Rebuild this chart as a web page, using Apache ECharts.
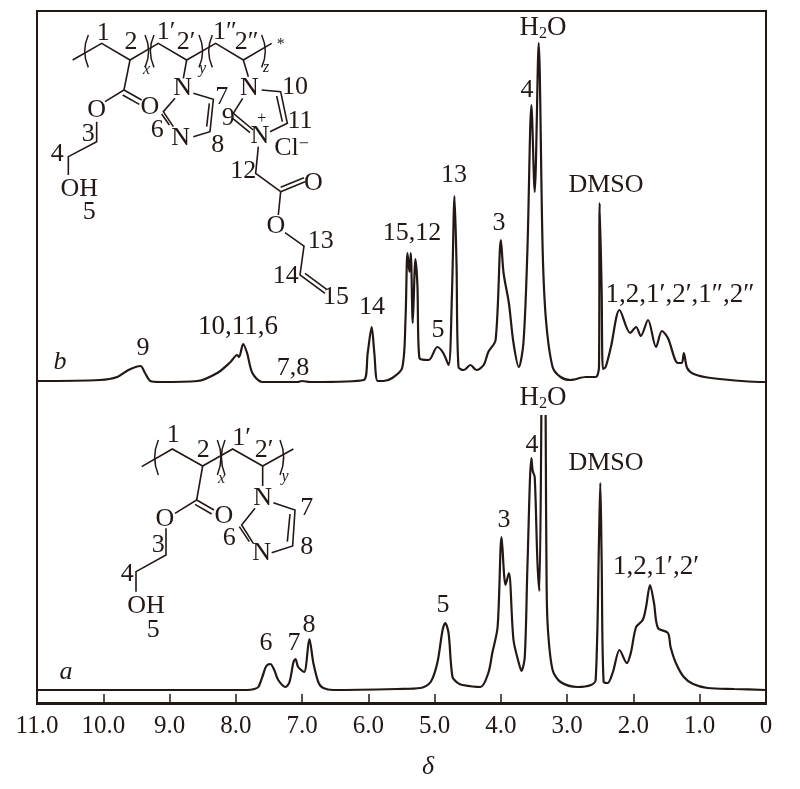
<!DOCTYPE html>
<html><head><meta charset="utf-8">
<style>html,body{margin:0;padding:0;background:#fff}#c{width:800px;height:789px}</style>
<script src="https://cdn.jsdelivr.net/npm/echarts@6/dist/echarts.min.js"></script>
</head><body><div id="c"></div>
<script>
const xTickLabels = ['0','1.0','2.0','3.0','4.0','5.0','6.0','7.0','8.0','9.0','10.0','11.0'];
const axisTitle = 'δ';

// spectrum a: chemical shift and intensity (null = clipped H2O top)
const deltaA = [11.00,7.83,7.72,7.66,7.59,7.54,7.48,7.42,7.36,7.25,7.19,7.13,7.10,7.06,6.97,6.89,6.83,6.75,6.68,6.53,5.56,5.21,5.06,4.96,4.88,4.84,4.79,4.73,4.65,4.58,4.31,4.19,4.13,4.05,3.99,3.93,3.88,3.81,3.73,3.69,3.64,3.60,3.54,3.52,3.49,3.45,3.42,3.39,3.36,3.325,3.31,3.29,3.22,3.10,2.84,2.64,2.57,2.52,2.50,2.48,2.45,2.39,2.31,2.21,2.10,2.04,1.96,1.86,1.81,1.75,1.69,1.63,1.48,1.44,1.36,1.24,1.10,0.88,0.48,0];
const intensityA = [13,13,14,16,28,37,39,33,23,16,21,41,44,36,31,64,40,20,15,13,14,15,21,40,73,80,70,26,20,18,16,30,50,76,166,118,130,63,40,32,46,136,245,232,226,143,112,288,null,288,116,73,33,21,16,18,23,163,220,143,21,20,31,53,40,50,76,83,96,118,100,75,70,56,40,26,19,15,14,13];

// spectrum b: chemical shift and intensity
const deltaB = [11.00,10.05,9.79,9.62,9.44,9.37,9.29,9.14,8.58,8.28,8.08,7.98,7.95,7.89,7.83,7.75,7.60,7.07,7.00,6.88,6.07,6.01,5.95,5.91,5.86,5.77,5.64,5.49,5.44,5.41,5.38,5.36,5.33,5.29,5.26,5.23,5.09,4.96,4.87,4.79,4.74,4.70,4.67,4.64,4.56,4.46,4.37,4.26,4.19,4.08,4.00,3.96,3.88,3.81,3.73,3.66,3.60,3.54,3.49,3.43,3.37,3.32,3.22,3.10,2.95,2.72,2.57,2.52,2.51,2.48,2.46,2.42,2.34,2.21,2.05,1.96,1.89,1.78,1.66,1.57,1.48,1.33,1.27,1.24,1.19,1.09,0.83,0.03,0];
const intensityB = [322,323,326,333,337,330,322,321,322,330,341,348,346,359,350,330,321,321,322,321,323,350,376,350,322,322,325,335,383,450,431,450,380,444,418,345,343,356,350,338,406,507,440,336,333,338,333,338,351,363,463,430,400,360,336,360,453,598,511,660,453,383,336,326,323,326,326,336,500,413,334,336,356,393,370,376,367,383,356,372,365,340,340,350,335,329,325,321,321];

// peak and panel labels: [text, x, y]
const peakLabels = [
  ['H{sub|2}O',543,28],['4',527,90],['13',454,175],['15,12',412,233],['14',372,307],['5',438,330],['3',499,223],['DMSO',606,185],
  ['1,2,1′,2′,1″,2″',680,295],['10,11,6',238,327],['9',143,348],['7,8',293,368],
  ['H{sub|2}O',543,398],['4',532,445],['DMSO',606,463],['3',504,520],['5',443,605],['1,2,1′,2′',656,567],['6',266,643],['7',294,643],['8',309,625]
];
const panelLabels = [['b',60,362],['a',66,672]];

// structure drawings, in a local sketch frame
const topOrigin = [50,10], lowOrigin = [110,410];
const topBonds = [
 [[68,150],[155,100],[240,150],[325,100],[410,150],[497,100],[580,150],[665,100]],
 [[240,150],[222,240],[165,275]],[[222,240],[275,270]],[[218,255],[268,283]],
 [[140,335],[140,395],[55,440],[55,495]],
 [[410,150],[400,205]],[[430,250],[490,268],[480,365],[430,380]],[[478,280],[470,350]],
 [[370,350],[340,305],[375,265]],[[358,345],[335,312]],
 [[580,150],[595,200]],[[635,240],[692,245],[712,340],[660,365]],[[680,258],[697,335]],
 [[578,265],[550,310],[610,360]],[[548,325],[600,368]],
 [[625,410],[617,490],[692,545],[685,615]],[[692,545],[765,515]],[[692,532],[762,503]],
 [[705,668],[762,708],[750,795],[825,850]],[[765,790],[830,838]]
];
const topParens = [[115,75,172,-1],[285,75,172,1],[312,75,172,-1],[447,75,172,1],[487,75,172,-1],[635,75,172,1]];
const topAtoms = [
 ['O',140,300],['O',300,292],['OH',88,538],['5',118,608],['3',115,372],['4',22,432],['1',160,70],['2',243,97],['1′',348,68],['2′',408,97],['1″',525,68],['2″',590,97],
 ['N',398,235],['N',392,385],['7',515,262],['8',503,407],['6',322,360],['N',598,235],['N',630,380],['10',735,232],['11',750,335],['9',535,325],['Cl{sup|−}',725,415],
 ['12',580,485],['O',790,520],['O',678,650],['13',812,695],['14',707,800],['15',858,862]
];
const topSmall = [['x',290,180,true],['y',458,175,true],['z',648,172,true],['*',692,105,false],['+',635,325,false]];
const lowBonds = [
 [[95,170],[187,117],[278,168],[368,117],[458,168],[550,117]],
 [[278,168],[260,270],[195,310]],[[260,270],[312,300]],[[255,283],[305,312]],
 [[168,355],[168,435],[78,485],[78,545]],
 [[458,168],[458,228]],[[490,278],[555,300],[548,408],[485,428]],[[540,312],[532,395]],
 [[430,400],[395,345],[435,295]],[[418,395],[388,350]]
];
const lowParens = [[145,90,195,-1],[322,90,195,1],[345,90,195,-1],[510,90,195,1]];
const lowAtoms = [
 ['O',165,328],['O',342,318],['OH',108,590],['5',130,660],['3',145,405],['4',52,492],['1',190,75],['2',280,122],['1′',395,85],['2′',462,120],
 ['N',458,265],['N',455,430],['6',358,385],['7',590,295],['8',590,412]
];
const lowSmall = [['x',335,205,true],['y',525,200,true]];

const ink = '#231815', serif = '"Liberation Serif", serif';
const txt = (s,x,y,size,italic) => ({type:'text',x,y,silent:true,style:{
  text:s,fill:ink,fontFamily:serif,fontSize:size,fontStyle:italic?'italic':'normal',align:'center',verticalAlign:'middle',
  rich:{sub:{fontSize:size*0.6,fontFamily:serif,fill:ink,verticalAlign:'bottom',padding:[10,0,0,0]},sup:{fontSize:size*0.7,fontFamily:serif,fill:ink,verticalAlign:'top',padding:[0,0,8,0]}}
}});
function sketch(origin,bonds,parens,atoms,small){
  const X=v=>origin[0]+v/3, Y=v=>origin[1]+v/3, out=[];
  bonds.forEach(b=>out.push({type:'polyline',silent:true,shape:{points:b.map(p=>[X(p[0]),Y(p[1])])},style:{stroke:ink,lineWidth:1.6,fill:null}}));
  parens.forEach(p=>out.push({type:'bezierCurve',silent:true,shape:{x1:X(p[0]),y1:Y(p[1]),x2:X(p[0]),y2:Y(p[2]),cpx1:X(p[0]+p[3]*22),cpy1:Y((p[1]+p[2])/2)},style:{stroke:ink,lineWidth:1.5,fill:null}}));
  atoms.forEach(a=>out.push(txt(a[0],X(a[1]),Y(a[2]),26,false)));
  small.forEach(a=>out.push(txt(a[0],X(a[1]),Y(a[2]),16,a[3])));
  return out;
}
const zip=(d,v)=>d.map((x,i)=>[x,v[i]]);
const lineSeries=(name,d,v)=>({name,type:'line',showSymbol:false,symbol:'none',smooth:0.3,connectNulls:false,silent:true,
  lineStyle:{color:ink,width:2.2},data:zip(d,v)});

const chart = echarts.init(document.getElementById('c'),null,{renderer:'canvas'});
chart.setOption({
  animation:false,backgroundColor:'#fff',
  grid:{left:37,right:34,top:11,bottom:85,show:true,borderColor:ink,borderWidth:2,backgroundColor:'transparent'},
  xAxis:{type:'value',inverse:true,min:0,max:11,interval:1,splitLine:{show:false},
    axisLine:{show:true,lineStyle:{color:ink,width:2}},
    axisTick:{show:true,inside:true,length:9,lineStyle:{color:ink,width:1.5}},
    axisLabel:{show:true,margin:10,color:ink,fontFamily:serif,fontSize:25,showMinLabel:true,showMaxLabel:true,formatter:v=>xTickLabels[Math.round(v)]}},
  yAxis:{type:'value',min:-1,max:692,show:false,splitLine:{show:false}},
  series:[lineSeries('a',deltaA,intensityA),lineSeries('b',deltaB,intensityB)],
  graphic:{elements:[].concat(
    sketch(topOrigin,topBonds,topParens,topAtoms,topSmall),
    sketch(lowOrigin,lowBonds,lowParens,lowAtoms,lowSmall),
    peakLabels.map(l=>txt(l[0],l[1],l[2],l[0].length>6?27:26,false)),
    panelLabels.map(l=>txt(l[0],l[1],l[2],26,true)),
    [txt(axisTitle,428,767,26,true)]
  )}
});
</script></body></html>
